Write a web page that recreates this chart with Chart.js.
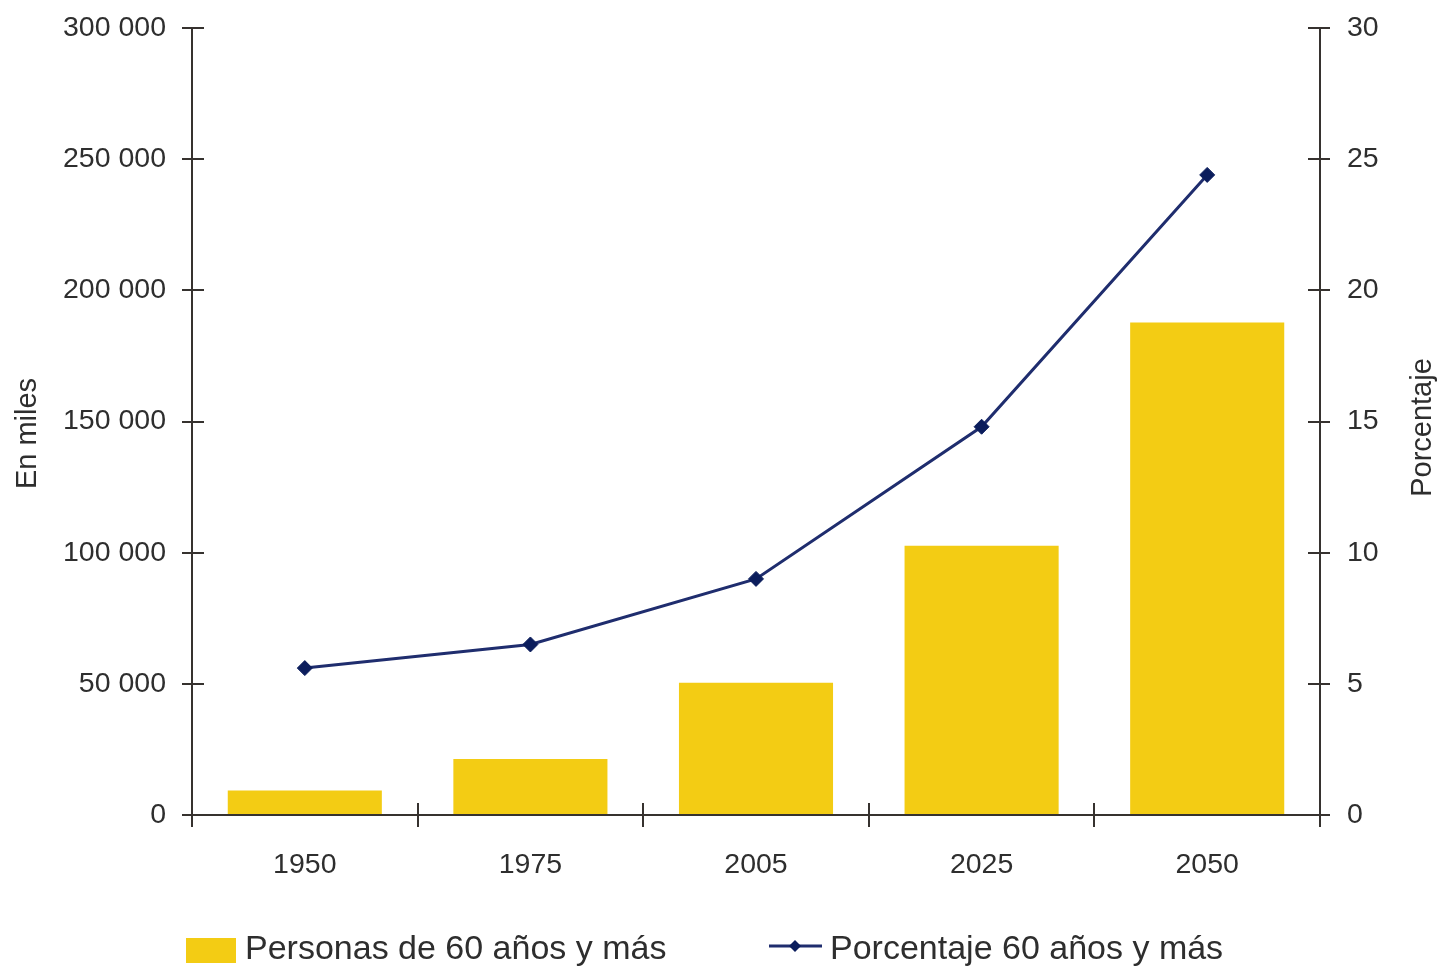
<!DOCTYPE html>
<html><head><meta charset="utf-8">
<script src="https://cdn.jsdelivr.net/npm/chart.js@4"></script>
<style>html,body{margin:0;padding:0;background:#fff;}canvas{display:block}</style>
</head><body>
<canvas id="c" width="1439" height="968"></canvas>
<script>
// ---- data ----
const years = ['1950', '1975', '2005', '2025', '2050'];
const personas = [9300, 21300, 50400, 102600, 187700];   // en miles
const porcentaje = [5.6, 6.5, 9.0, 14.8, 24.4];          // %
const seriesNames = ['Personas de 60 años y más', 'Porcentaje 60 años y más'];
const axisTitles = ['En miles', 'Porcentaje'];
const leftRange = [0, 300000, 50000];
const rightRange = [0, 30, 5];

// ---- style ----
const FONT = '"Liberation Sans", Arial, sans-serif';
const AX = '#36322f';
const TXT = '#2e2e2e';
const BAR = '#F3CC14';
const LINE = '#1f2d6e';
const MARK = '#0b1d5c';

const fmt = n => String(n).replace(/\B(?=(\d{3})+(?!\d))/g, ' ');

const extras = {
  id: 'extras',
  afterDraw(chart) {
    const {ctx, chartArea: a, scales: {x, y, y2}} = chart;
    ctx.save();
    // inner halves of tick marks
    ctx.strokeStyle = AX; ctx.lineWidth = 2;
    ctx.beginPath();
    for (let i = 1; i < years.length; i++) {
      const px = Math.round(x.getPixelForValue(i - 0.5));
      ctx.moveTo(px, a.bottom); ctx.lineTo(px, a.bottom - 12);
    }
    y.ticks.forEach(t => { const py = Math.round(y.getPixelForValue(t.value)); ctx.moveTo(a.left, py); ctx.lineTo(a.left + 12, py); });
    y2.ticks.forEach(t => { const py = Math.round(y2.getPixelForValue(t.value)); ctx.moveTo(a.right, py); ctx.lineTo(a.right - 12, py); });
    ctx.stroke();

    // axis titles (both read bottom-to-top)
    ctx.fillStyle = TXT;
    ctx.font = `29px ${FONT}`;
    ctx.textAlign = 'center'; ctx.textBaseline = 'alphabetic';
    const mid = (a.top + a.bottom) / 2;
    ctx.save(); ctx.translate(36, mid + 12); ctx.rotate(-Math.PI / 2); ctx.fillText(axisTitles[0], 0, 0); ctx.restore();
    ctx.save(); ctx.translate(1431, mid + 6); ctx.rotate(-Math.PI / 2); ctx.fillText(axisTitles[1], 0, 0); ctx.restore();

    // legend
    const ds = chart.data.datasets;
    const barDs = ds.find(d => d.type === 'bar');
    const lineDs = ds.find(d => d.type === 'line');
    ctx.font = `34px ${FONT}`;
    ctx.textAlign = 'left'; ctx.textBaseline = 'alphabetic';
    ctx.fillStyle = barDs.backgroundColor;
    ctx.fillRect(186, 938, 50, 25);
    ctx.fillStyle = TXT;
    ctx.fillText(barDs.label, 245, 959);
    ctx.strokeStyle = lineDs.borderColor; ctx.lineWidth = 3;
    ctx.beginPath(); ctx.moveTo(769, 946); ctx.lineTo(822, 946); ctx.stroke();
    ctx.fillStyle = lineDs.pointBackgroundColor;
    ctx.beginPath(); ctx.moveTo(789, 946); ctx.lineTo(795, 940); ctx.lineTo(801, 946); ctx.lineTo(795, 952); ctx.closePath(); ctx.fill();
    ctx.fillStyle = TXT;
    ctx.fillText(lineDs.label, 830, 959);
    ctx.restore();
  }
};

const tickFont = {family: FONT, size: 28.5};
const fitY = w => s => { s.width = w; s.paddingTop = 0; s.paddingBottom = 0; };

new Chart(document.getElementById('c'), {
  type: 'bar',
  data: {
    labels: years,
    datasets: [
      {
        type: 'bar', label: seriesNames[0], data: personas, yAxisID: 'y', order: 2,
        backgroundColor: BAR, borderWidth: 0,
        categoryPercentage: 1, barPercentage: 0.683
      },
      {
        type: 'line', label: seriesNames[1], data: porcentaje, yAxisID: 'y2', order: 1,
        borderColor: LINE, borderWidth: 3, tension: 0, fill: false,
        pointStyle: 'rectRot', pointRadius: 7.5, pointBorderWidth: 1,
        pointBackgroundColor: MARK, pointBorderColor: MARK
      }
    ]
  },
  options: {
    responsive: false,
    animation: false,
    devicePixelRatio: 1,
    layout: {padding: {top: 28, left: 0, right: 0, bottom: 0}},
    plugins: {legend: {display: false}, tooltip: {enabled: false}},
    scales: {
      x: {
        grid: {offset: true, drawOnChartArea: false, tickLength: 12, color: AX, lineWidth: 2},
        border: {color: AX, width: 2},
        ticks: {font: tickFont, color: TXT, padding: 21},
        afterFit: s => { s.height = 153; s.paddingLeft = 0; s.paddingRight = 0; }
      },
      y: {
        position: 'left', min: leftRange[0], max: leftRange[1],
        grid: {drawOnChartArea: false, tickLength: 10, color: AX, lineWidth: 2},
        border: {color: AX, width: 2},
        ticks: {stepSize: leftRange[2], font: tickFont, color: TXT, padding: 16, callback: v => fmt(v)},
        afterFit: fitY(192)
      },
      y2: {
        position: 'right', min: rightRange[0], max: rightRange[1],
        grid: {drawOnChartArea: false, tickLength: 10, color: AX, lineWidth: 2},
        border: {color: AX, width: 2},
        ticks: {stepSize: rightRange[2], font: tickFont, color: TXT, padding: 17},
        afterFit: fitY(119)
      }
    }
  },
  plugins: [extras]
});
</script>
</body></html>
